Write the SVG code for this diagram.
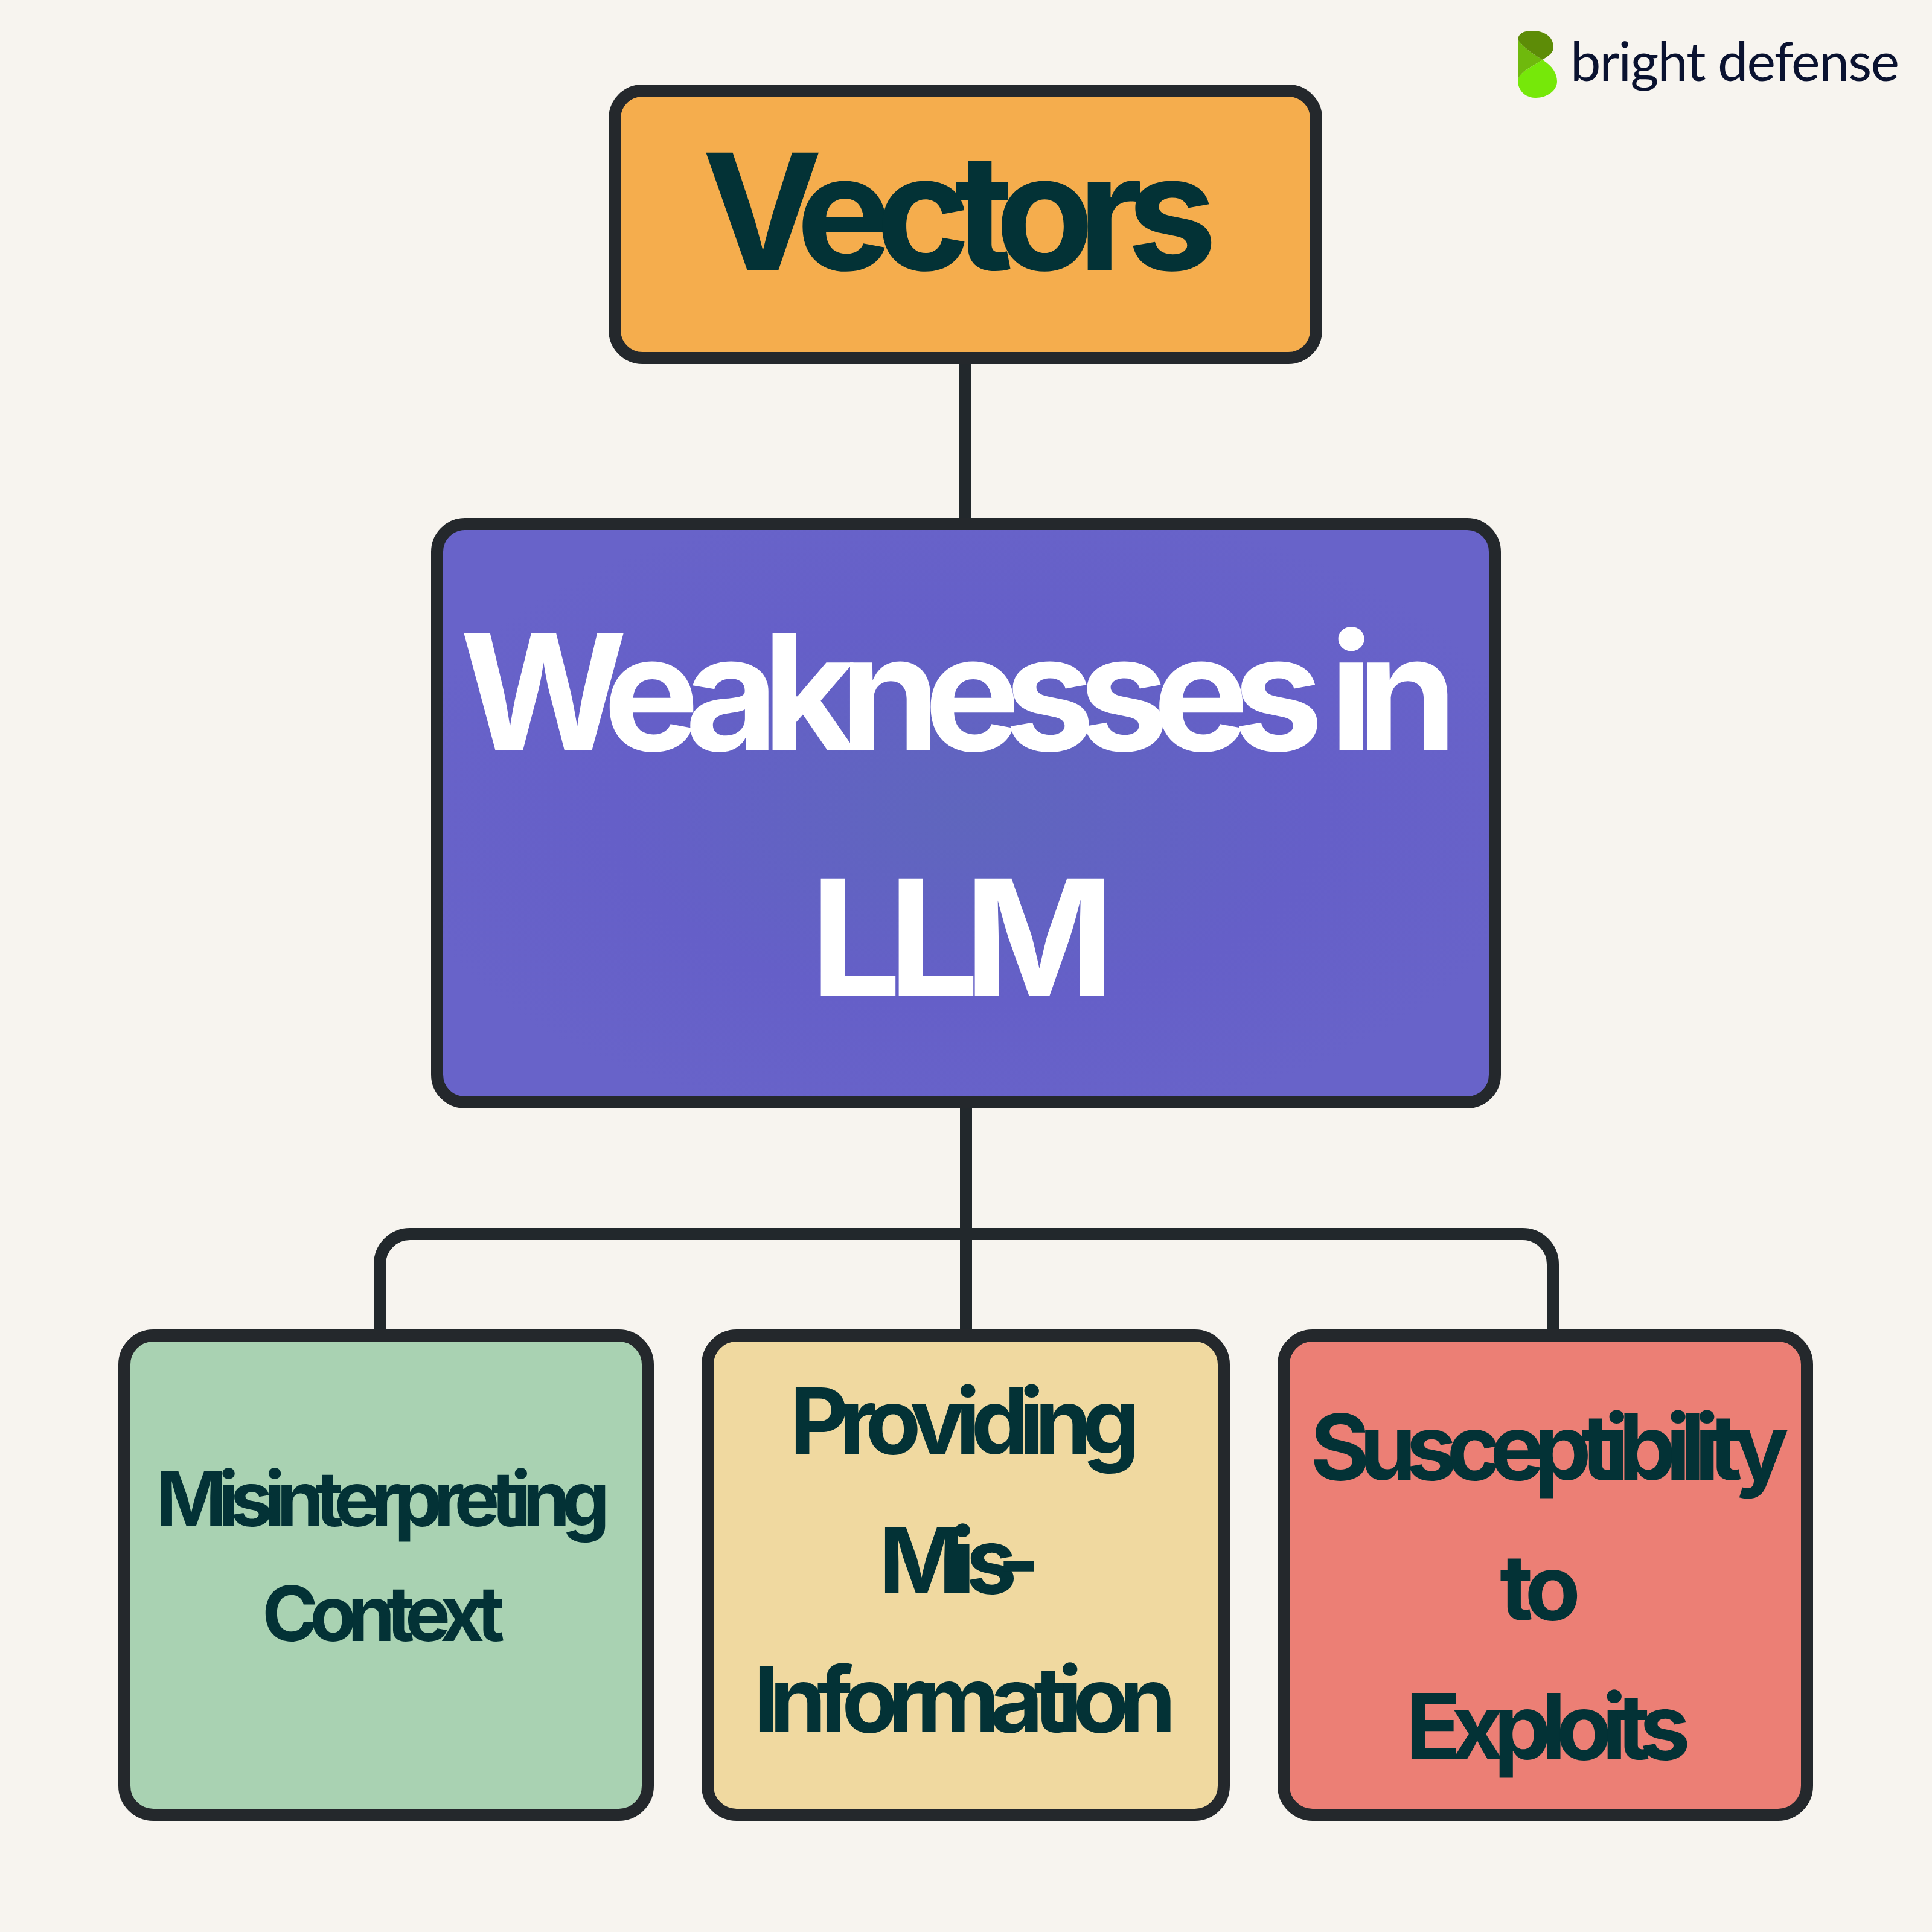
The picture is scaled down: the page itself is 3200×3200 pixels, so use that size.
<svg xmlns="http://www.w3.org/2000/svg" width="3200" height="3200" viewBox="0 0 3200 3200">
<style>
.box{stroke:#24282c;stroke-width:20}
.conn{fill:none;stroke:#22282c;stroke-width:20}
.t{font-family:"Inter","Liberation Sans",sans-serif;font-weight:700;fill:#033236}
.w{fill:#ffffff}
.big{font-size:267px}
.mid{font-size:151px}
.sm{font-size:126px}
.logo{font-family:"Lato","Open Sans",sans-serif;font-size:90px;fill:#0a1230}
</style>
<defs>
<radialGradient id="blue" cx="50%" cy="50%" r="55%">
<stop offset="0" stop-color="#5f66bd"/>
<stop offset="0.6" stop-color="#655fc8"/>
<stop offset="1" stop-color="#6863c9"/>
</radialGradient>
</defs>
<rect width="3200" height="3200" fill="#f7f4ef"/>
<g id="connectors">
<path class="conn" d="M1599 600V868"/>
<path class="conn" d="M1600 1826V2212"/>
<path class="conn" d="M629 2212V2094A50 50 0 0 1 679 2044H2522A50 50 0 0 1 2572 2094V2212"/>
</g>
<g id="node-vectors">
<rect class="box" x="1018" y="150" width="1162" height="443" rx="46" fill="#f5ad4d"/>
<text class="t big" x="1163" y="447" textLength="853" lengthAdjust="spacing">Vectors</text>
</g>
<g id="node-weaknesses">
<rect class="box" x="724" y="868" width="1752" height="958" rx="46" fill="url(#blue)"/>
<text class="t w big" x="762" y="1243" textLength="1652" lengthAdjust="spacing">Weaknesses in</text>
<text class="t w big" x="1342 1471 1597" y="1650">LLM</text>
</g>
<g id="node-context">
<rect class="box" x="206" y="2212" width="867" height="794" rx="48" fill="#a9d2b2"/>
<text class="t sm" x="258" y="2528" textLength="752" lengthAdjust="spacing">Misinterpreting</text>
<text class="t sm" x="434" y="2718" textLength="402" lengthAdjust="spacing">Context</text>
</g>
<g id="node-misinformation">
<rect class="box" x="1172" y="2212" width="855" height="794" rx="48" fill="#f0d9a0"/>
<text class="t mid" x="1308" y="2408" textLength="580" lengthAdjust="spacing">Providing</text>
<text class="t mid" x="1456 1574 1600 1652" y="2639">Mis-</text>
<text class="t mid" x="1248" y="2869" textLength="700" lengthAdjust="spacing">Information</text>
</g>
<g id="node-exploits">
<rect class="box" x="2126" y="2212" width="867" height="794" rx="48" fill="#ec7f75"/>
<text class="t mid" x="2170" y="2451" textLength="793" lengthAdjust="spacing">Susceptibility</text>
<text class="t mid" x="2484" y="2683" textLength="134" lengthAdjust="spacing">to</text>
<text class="t mid" x="2328" y="2914" textLength="472" lengthAdjust="spacing">Exploits</text>
</g>
<g id="logo">
<path d="M2555 99C2572 110 2579 122 2579 135C2579 150 2562 162 2544 162C2526 162 2514 150 2514 133C2518 118 2535 112 2555 99Z" fill="#76e809"/>
<path d="M2514 66C2525 80 2540 90 2555 99C2535 112 2518 118 2514 133Z" fill="#6fb90d"/>
<path d="M2514 66C2514 56 2524 51 2536 51C2560 51 2573 62 2573 78C2573 88 2565 92 2555 99C2540 90 2525 80 2514 66Z" fill="#5d8c07"/>
<text class="logo" x="2601" y="134" textLength="545" lengthAdjust="spacing">bright defense</text>
</g>
</svg>
